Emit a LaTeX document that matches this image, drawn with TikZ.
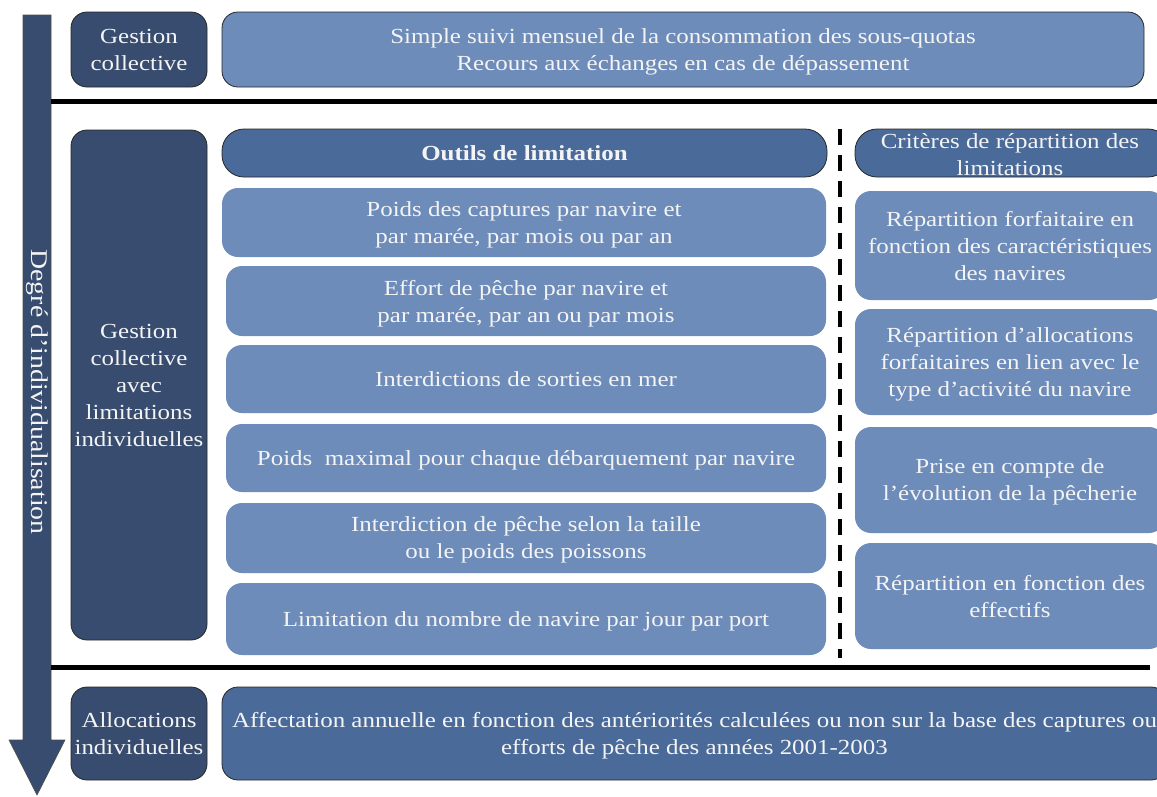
\documentclass[tikz,border=0pt]{standalone}
\usepackage{fontspec}
\setmainfont[FakeStretch=1.16]{Liberation Serif}
\definecolor{darkb}{HTML}{374C6E}
\definecolor{medb}{HTML}{4A6A9A}
\definecolor{lightb}{HTML}{6D8CBA}
\definecolor{txtw}{HTML}{F4F4F4}
\begin{document}
\begin{tikzpicture}[x=1pt,y=-1pt,
  font=\fontsize{21.5}{27}\selectfont,
  box/.style={rounded corners=16pt, align=center, text=txtw, inner sep=0pt, text depth=0pt},
  darkbox/.style={box, fill=darkb, draw=black!85, line width=0.8pt},
  medbox/.style={box, fill=medb, draw=black!85, line width=0.8pt},
  topbox/.style={box, fill=lightb, draw=black!85, line width=0.8pt},
  lightbox/.style={box, fill=lightb, draw=none},
  sepline/.style={line width=5pt, black},
  dashsep/.style={line width=4.5pt, black, dash pattern=on 16pt off 10pt}]
\useasboundingbox (0,0) rectangle (1157,796);
% arrow
\filldraw[fill=darkb, draw=black!70, line width=0.6pt] (23,15) -- (51,15) -- (51,740) -- (65,740) -- (37,795) -- (9,740) -- (23,740) -- cycle;
\node[rotate=-90, text=txtw, font=\fontsize{24}{28}\selectfont] (deg) at (37,392) {Degré d’individualisation};
% separators
\coordinate (s1a) at (51,101); \coordinate (s1b) at (1157,101);
\coordinate (s2a) at (51,667); \coordinate (s2b) at (1150,667);
\coordinate (d1) at (840,129); \coordinate (d2) at (840,658);
\draw[sepline] (s1a) -- (s1b);
\draw[sepline] (s2a) -- (s2b);
\draw[dashsep] (d1) -- (d2);
% top row
\node[darkbox, minimum width=136pt, minimum height=75pt] (gc) at (139,49.5) {Gestion\\collective};
\node[topbox, minimum width=922pt, minimum height=75pt] (suivi) at (683,49.5) {Simple suivi mensuel de la consommation des sous-quotas\\Recours aux échanges en cas de dépassement};
% middle
\node[darkbox, minimum width=136pt, minimum height=510pt] (gcl) at (139,385) {Gestion\\collective\\avec\\limitations\\individuelles};
\node[medbox, rounded corners=22pt, minimum width=605pt, minimum height=48pt, font=\fontsize{21.5}{27}\selectfont\bfseries] (outils) at (524.5,153) {Outils de limitation};
\node[lightbox, minimum width=604pt, minimum height=69pt] (o1) at (524,222.5) {Poids des captures par navire et\\par marée, par mois ou par an};
\node[lightbox, minimum width=600pt, minimum height=70pt] (o2) at (526,301) {Effort de pêche par navire et\\par marée, par an ou par mois};
\node[lightbox, minimum width=600pt, minimum height=68pt] (o3) at (526,379) {Interdictions de sorties en mer};
\node[lightbox, minimum width=600pt, minimum height=68pt] (o4) at (526,458) {Poids~ maximal pour chaque débarquement par navire};
\node[lightbox, minimum width=600pt, minimum height=70pt] (o5) at (526,538) {Interdiction de pêche selon la taille\\ou le poids des poissons};
\node[lightbox, minimum width=600pt, minimum height=72pt] (o6) at (526,619) {Limitation du nombre de navire par jour par port};
% right column
\draw[medb, fill=medb, draw=black!85, line width=0.8pt, rounded corners=22pt] (855,129) rectangle (1170,177);
\node[text=txtw, align=center, inner sep=0pt] (crit) at (1010,155) {Critères de répartition des\\limitations};
\node[lightbox, minimum width=310pt, minimum height=109pt] (c1) at (1010,245.5) {Répartition forfaitaire en\\fonction des caractéristiques\\des navires};
\node[lightbox, minimum width=310pt, minimum height=106pt] (c2) at (1010,362) {Répartition d’allocations\\forfaitaires en lien avec le\\type d’activité du navire};
\node[lightbox, minimum width=310pt, minimum height=106pt] (c3) at (1010,480) {Prise en compte de\\l’évolution de la pêcherie};
\node[lightbox, minimum width=310pt, minimum height=106pt] (c4) at (1010,596) {Répartition en fonction des\\effectifs};
% bottom
\node[darkbox, minimum width=136pt, minimum height=93pt] (ai) at (139,733.5) {Allocations\\individuelles};
\node[medbox, minimum width=945pt, minimum height=93pt] (aff) at (694.5,733.5) {Affectation annuelle en fonction des antériorités calculées ou non sur la base des captures ou\\efforts de pêche des années 2001-2003};
\end{tikzpicture}
\end{document}
